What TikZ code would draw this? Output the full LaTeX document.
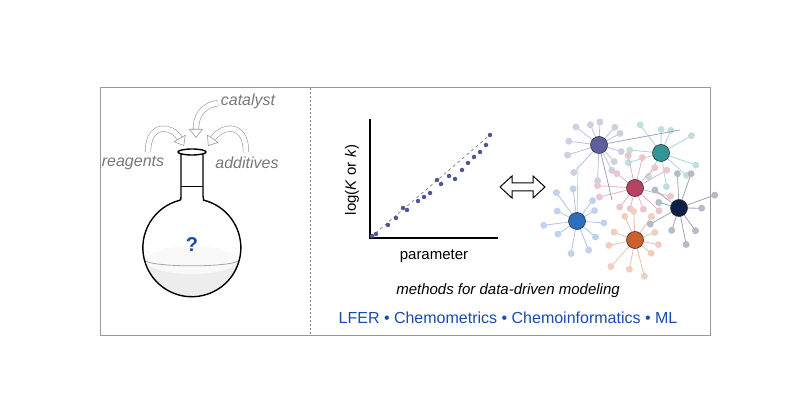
\documentclass[tikz,border=0pt]{standalone}
\usepackage{fontspec}
\setmainfont{Liberation Sans}
\usetikzlibrary{arrows.meta}
\definecolor{gtxt}{RGB}{120,120,120}
\definecolor{bl}{RGB}{25,75,175}
\definecolor{hp}{RGB}{95,95,160}
\definecolor{ht}{RGB}{50,150,150}
\definecolor{hk}{RGB}{185,65,100}
\definecolor{hn}{RGB}{15,30,70}
\definecolor{hb}{RGB}{45,110,190}
\definecolor{ho}{RGB}{205,95,45}
\definecolor{dotc}{RGB}{80,85,150}
\tikzset{
 lbl/.style={text=gtxt,font=\itshape\fontsize{16}{16}\selectfont},
 carrow/.style={draw=gray!80,double=white,double distance=5pt,line width=0.6pt,-{Triangle[open,length=9pt,width=14pt]}},
 hub/.style={circle,draw=black!80,line width=0.6pt,minimum size=17pt,inner sep=0pt},
 sat/.style={circle,minimum size=7pt,inner sep=0pt},
 pt/.style={circle,fill=dotc,minimum size=4.5pt,inner sep=0pt}
}
\begin{document}
\begin{tikzpicture}[x=1pt,y=-1pt]
\useasboundingbox (0,0) rectangle (800,419);
\node[draw=gray!80,line width=0.8pt,minimum width=610pt,minimum height=248pt,anchor=north west] (frame) at (100,87) {};
\coordinate (dt) at (310,88); \coordinate (db) at (310,334);
\draw[gray,line width=0.8pt,dash pattern=on 2pt off 2pt] (dt) -- (db);
% flask
\fill[gray!14] (192,248) ++(166:49) arc[start angle=166,end angle=14,radius=49] -- cycle;
\fill[gray!5] (192,260) ellipse[x radius=46,y radius=14];
\draw[gray!70,line width=0.8pt] (192,248) ++(166:49) arc[start angle=180,end angle=0,x radius=47.5,y radius=6];
\draw[line width=1.4pt] (181,152) -- (181,196) .. controls (181,199) .. (180,200.2) arc[start angle=256,end angle=-76,radius=49] .. controls (203,199) .. (203,196) -- (203,152);
\draw[line width=1.4pt,fill=white] (192,152) ellipse[x radius=14,y radius=3];
\draw[line width=1pt] (181,187) -- (203,187);
\node[text=bl,font=\bfseries\fontsize{20}{20}\selectfont] (q) at (192,245) {?};
% labels and arrows
\node[lbl] (cat) at (248,101) {catalyst};
\node[lbl] (rea) at (133,163) {reagents};
\node[lbl] (add) at (247,163) {additives};
\coordinate (c1) at (218,103); \coordinate (c2) at (196,138);
\draw[carrow] (c1) .. controls (200,106) and (196,118) .. (c2);
\coordinate (r1) at (148,152); \coordinate (r2) at (184,146);
\draw[carrow] (r1) .. controls (148,122) and (172,125) .. (r2);
\coordinate (a1) at (246,152); \coordinate (a2) at (208,146);
\draw[carrow] (a1) .. controls (246,122) and (222,125) .. (a2);
% plot
\coordinate (o) at (370,238); \coordinate (ya) at (370,119); \coordinate (xa) at (498,238);
\draw[line width=1.2pt] (ya) -- (o) -- (xa);
\coordinate (l1) at (371,237); \coordinate (l2) at (491,134);
\draw[gray,dashed,line width=0.7pt] (l1) -- (l2);
\foreach \x/\y in {372/236,376/234,388/225,396/218,403/208,407/210,418/201,424/197,430/193,437/180,441/184,449/176,455/179,462/170,468/163,474/157,480/152,486/145,490/135}
 \node[pt] at (\x,\y) {};
\node[rotate=90,font=\fontsize{15}{15}\selectfont] (ylab) at (352,180) {log(\textit{K} or \textit{k})};
\node[font=\fontsize{15}{15}\selectfont] (xlab) at (434,256) {parameter};
\draw[line width=1pt,line join=miter] (500,187) -- (512,176) -- (512,183) -- (533,183) -- (533,176) -- (545,187) -- (533,198) -- (533,191) -- (512,191) -- (512,198) -- cycle;
% network
\pgfmathsetseed{7}
\foreach \hx/\hy/\hc/\n in {599/145/hp/12,661/153/ht/10,635/188/hk/12,679/208/hn/10,577/221/hb/11,635/240/ho/11}{
 \foreach \i in {1,...,\n}{
  \pgfmathsetmacro\ang{360*\i/\n+rnd*20}
  \pgfmathsetmacro\rr{20+rnd*18}
  \draw[\hc!40,line width=0.8pt] (\hx,\hy) -- ++(\ang:\rr) node[sat,fill=\hc!30]{};
 }
}
\draw[hp!60,line width=0.8pt] (599,145) -- (680,130);
\draw[hp!60,line width=0.8pt] (599,145) -- (612,200);
\draw[hb!30,line width=0.8pt] (577,221) -- (578,165);
\node[hub,fill=hp] (h1) at (599,145) {};
\node[hub,fill=ht] (h2) at (661,153) {};
\node[hub,fill=hk] (h3) at (635,188) {};
\node[hub,fill=hn] (h4) at (679,208) {};
\node[hub,fill=hb] (h5) at (577,221) {};
\node[hub,fill=ho] (h6) at (635,240) {};
% captions
\node[font=\itshape\fontsize{15}{15}\selectfont] (m) at (508,291) {methods for data-driven modeling};
\node[text=bl,font=\fontsize{16}{16}\selectfont] (lf) at (508,318) {LFER • Chemometrics • Chemoinformatics • ML};
\end{tikzpicture}
\end{document}
